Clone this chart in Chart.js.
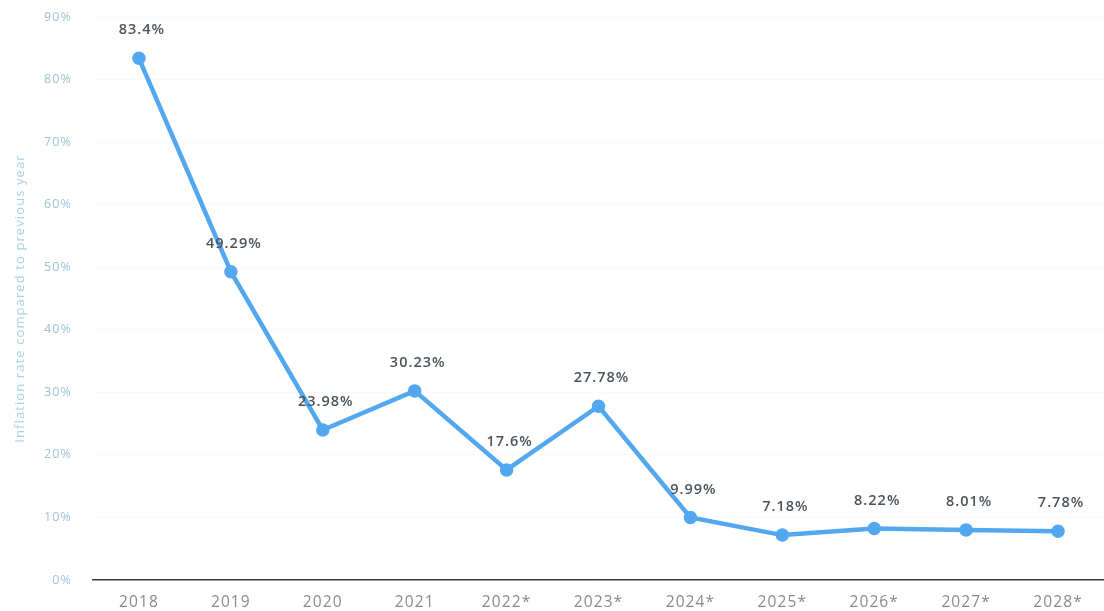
<!DOCTYPE html>
<html>
<head>
<meta charset="utf-8">
<script src="https://cdn.jsdelivr.net/npm/chart.js@4/dist/chart.umd.min.js"></script>
<style>
  html, body { margin: 0; padding: 0; background: #fff; overflow: hidden; }
  canvas { display: block; }
</style>
</head>
<body>
<canvas id="inflationChart" width="1104" height="611"></canvas>
<script>
// inflation by year, forecasts marked with *
var years = ['2018', '2019', '2020', '2021', '2022*', '2023*', '2024*', '2025*', '2026*', '2027*', '2028*'];
var inflation = [83.4, 49.29, 23.98, 30.23, 17.6, 27.78, 9.99, 7.18, 8.22, 8.01, 7.78];
var valueLabels = ['83.4%', '49.29%', '23.98%', '30.23%', '17.6%', '27.78%', '9.99%', '7.18%', '8.22%', '8.01%', '7.78%'];

// wider text spacing for every label on the canvas
var spacing = {
  id: 'spacing',
  beforeDraw(chart) { chart.ctx.letterSpacing = '1.1px'; },
  afterDraw(chart) { chart.ctx.letterSpacing = '0px'; }
};

// writes the value above each point
var pointLabels = {
  id: 'pointLabels',
  afterDatasetsDraw(chart) {
    var ctx = chart.ctx;
    var meta = chart.getDatasetMeta(0);
    ctx.save();
    ctx.letterSpacing = '1px';
    ctx.font = '600 14.5px "Open Sans", sans-serif';
    ctx.fillStyle = '#4b545c';
    ctx.textAlign = 'center';
    ctx.textBaseline = 'middle';
    meta.data.forEach(function (pt, i) {
      ctx.fillText(valueLabels[i], pt.x + 3, pt.y - 28);
    });
    ctx.restore();
  }
};

new Chart(document.getElementById('inflationChart'), {
  type: 'line',
  data: {
    labels: years,
    datasets: [{
      data: inflation,
      borderColor: '#52a7ef',
      backgroundColor: '#52a7ef',
      borderWidth: 4.5,
      pointRadius: 4.5,
      pointHoverRadius: 4.5,
      tension: 0
    }]
  },
  options: {
    responsive: false,
    animation: false,
    layout: { autoPadding: false, padding: { top: 17, right: -22, left: 12, bottom: 0 } },
    plugins: {
      legend: { display: false },
      tooltip: { enabled: false }
    },
    scales: {
      x: {
        offset: true,
        grid: { display: false, drawTicks: false },
        border: { display: true, color: '#3c3c3c', width: 1.5 },
        ticks: {
          color: '#8a8a8a',
          padding: 13,
          font: { family: '"Open Sans", sans-serif', size: 15.5 },
          maxRotation: 0
        },
        afterFit(scale) { scale.height = 31; scale.paddingLeft = 0; scale.paddingRight = 0; }
      },
      y: {
        min: 0,
        max: 90,
        ticks: {
          stepSize: 10,
          color: '#9cc3d8',
          padding: 21,
          font: { family: '"Open Sans", sans-serif', size: 12.5 },
          callback: function (v) { return v + '%'; }
        },
        grid: { color: 'rgba(0,0,0,0.025)', drawTicks: false },
        border: { display: false },
        title: {
          display: true,
          text: 'Inflation rate compared to previous year',
          color: '#a8d2e8',
          font: { family: '"Open Sans", sans-serif', size: 13 },
          padding: { top: 0, bottom: 0 }
        },
        afterFit(scale) { scale.width = 81; scale.paddingTop = 0; scale.paddingBottom = 0; }
      }
    }
  },
  plugins: [spacing, pointLabels]
});
</script>
</body>
</html>
